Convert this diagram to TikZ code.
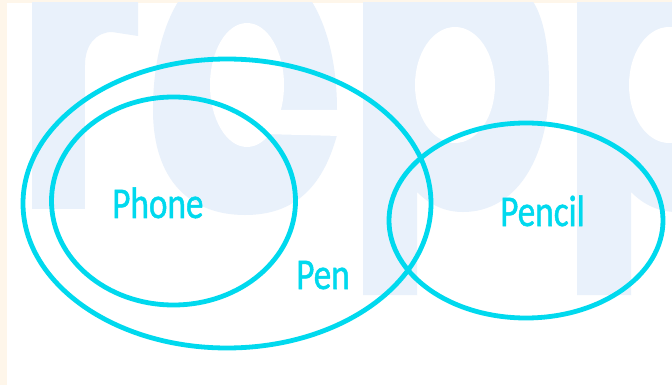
\documentclass[tikz,border=0pt]{standalone}
\usepackage{fontspec}
\newfontfamily\lblfont[FakeBold=1.2]{Carlito}
\definecolor{cream}{HTML}{FEF6EA}
\definecolor{wm}{HTML}{E9F1FB}
\definecolor{cy}{HTML}{00D9EE}
\newcommand\wmpletter{(363,0) -- (363,295) -- (417,295) -- (417,192) .. controls (430,205) and (445,212) .. (463,212) .. controls (515,212) and (549,160) .. (549,85) .. controls (549,40) and (542,15) .. (532,0) -- cycle}
\begin{document}
\begin{tikzpicture}[x=0.75pt,y=-0.75pt,
  venn/.style={draw=cy,line width=3.6pt},
  lbl/.style={text=cy,inner sep=0pt,anchor=base west,font=\lblfont\fontsize{33}{38}\selectfont}]
\useasboundingbox (0,0) rectangle (672,385);
\fill[cream] (0,0) rectangle (672,385);
\fill[white] (7,3) rectangle (672,385);
\begin{scope}
  \clip (7,3) rectangle (672,385);
  % r
  \fill[wm] (32,0) rectangle (85,209);
  \fill[wm] (84,0) -- (138,0) -- (138,36) -- (112,32) .. controls (96,32) and (85,45) .. (85,65) -- (84,65) -- cycle;
  % e
  \fill[wm] (153,110) .. controls (153,20) and (190,-40) .. (245,-40) .. controls (300,-40) and (337,20) .. (337,110) -- (337,135) .. controls (322,190) and (292,215) .. (245,215) .. controls (190,215) and (153,180) .. (153,110) -- cycle;
  \fill[white] (247,85) ellipse [x radius=37, y radius=62];
  \fill[white] (262,110) -- (340,110) -- (340,136) -- (262,134) -- cycle;
  % p
  \fill[wm] \wmpletter;
  \fill[white] (455,85) ellipse [x radius=40, y radius=58];
  % second p
  \begin{scope}[shift={(214,0)}]
    \fill[wm] \wmpletter;
    \fill[white] (455,85) ellipse [x radius=40, y radius=58];
  \end{scope}
\end{scope}
% Venn ellipses
\draw[venn] (227,203.5) ellipse [x radius=204, y radius=144.5];
\draw[venn] (173.5,201) ellipse [x radius=122, y radius=104];
\draw[venn] (526,220.5) ellipse [x radius=137, y radius=97.5];
% labels
\node[lbl] (phone) at (112,218) {\scalebox{0.8}[1]{Phone}};
\node[lbl] (pen) at (296,289) {\scalebox{0.8}[1]{Pen}};
\node[lbl] (pencil) at (500,226) {\scalebox{0.8}[1]{Pencil}};
\end{tikzpicture}
\end{document}
